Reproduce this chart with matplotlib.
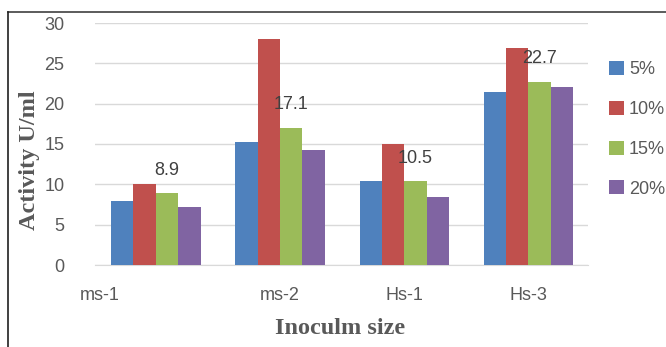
import numpy as np
import matplotlib
matplotlib.use('Agg')
import matplotlib.pyplot as plt
from matplotlib.lines import Line2D
import matplotlib.transforms as mtransforms

# Data
categories = ['ms-1', 'ms-2', 'Hs-1', 'Hs-3']
series_names = ['5%', '10%', '15%', '20%']
vals_5 = [7.9, 15.2, 10.4, 21.4]
vals_10 = [10.0, 28.0, 15.0, 26.9]
vals_15 = [8.9, 17.0, 10.4, 22.7]
vals_20 = [7.2, 14.2, 8.4, 22.1]
label_15 = ['8.9', '17.1', '10.5', '22.7']
y_ticks = [0, 5, 10, 15, 20, 25, 30]

colors = ['#4f81bd', '#c0504d', '#9bbb59', '#8064a2']
grey = '#595959'

fig = plt.figure(figsize=(6.66, 3.47), dpi=100)
ax = fig.add_axes([95 / 666, 1 - 265 / 347, 493 / 666, 242 / 347])

x = np.arange(len(categories))
w = 0.18
all_vals = [vals_5, vals_10, vals_15, vals_20]
for i, (vals, name) in enumerate(zip(all_vals, series_names)):
    ax.bar(x + (i - 1.5) * w, vals, width=w, color=colors[i], label=name, zorder=3)

# data labels for the 15% series, placed a bit above the bar top
for xi, v, lab in zip(x, vals_15, label_15):
    ax.annotate(lab, (xi + 0.5 * w, v), xytext=(0, 23), textcoords='offset pixels',
                ha='center', va='center', fontsize=13, color='#404040',
                family='Liberation Sans', zorder=4)

ax.set_xlim(-0.49, 3.48)
ax.set_ylim(0, 30)
ax.set_yticks(y_ticks)
ax.set_xticks(x)
ax.set_xticklabels(categories)
ax.yaxis.grid(True, color='#d9d9d9', linewidth=1, zorder=0)
for s in ['top', 'right', 'left']:
    ax.spines[s].set_visible(False)
ax.spines['bottom'].set_color('#d9d9d9')
ax.tick_params(axis='both', length=0, labelsize=13, labelcolor=grey)
ax.tick_params(axis='x', pad=16)
ax.tick_params(axis='y', pad=22)
for t in ax.get_xticklabels() + ax.get_yticklabels():
    t.set_family('Liberation Sans')

# first category label sits further left in the original
first = ax.get_xticklabels()[0]
first.set_transform(first.get_transform() + mtransforms.ScaledTranslation(-0.56, 0, fig.dpi_scale_trans))

fig.text(30 / 666, 1 - 160 / 347, 'Activity U/ml', rotation=90, ha='center', va='center',
         fontsize=17.5, fontweight='bold', family='Liberation Serif', color=grey)
fig.text(340 / 666, 1 - 328 / 347, 'Inoculm size', ha='center', va='center',
         fontsize=17.5, fontweight='bold', family='Liberation Serif', color=grey)

leg = fig.legend(loc='upper left', bbox_to_anchor=(602 / 666, 1 - 54 / 347), frameon=False,
                 fontsize=13, handlelength=0.8, handleheight=0.8, handletextpad=0.3,
                 labelspacing=1.25, borderaxespad=0)
for t in leg.get_texts():
    t.set_color(grey)
    t.set_family('Liberation Sans')

# border lines on top and left of the figure
fig.add_artist(Line2D([8 / 666, 1], [1 - 12 / 347, 1 - 12 / 347], color='#404040', linewidth=1.2))
fig.add_artist(Line2D([8 / 666, 8 / 666], [0, 1 - 12 / 347], color='#202020', linewidth=1.2))

fig.savefig('out.png', dpi=100)
